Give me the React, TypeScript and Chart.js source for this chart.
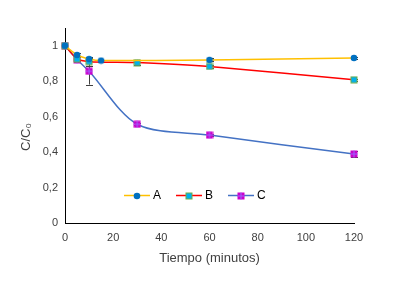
import React, { useEffect, useRef } from "react";
import { Chart, registerables } from "chart.js";

Chart.register(...registerables);

// ---- data ----
const seriesNames = ["A", "B", "C"];
const timesA = [0, 5, 10, 15, 60, 120];
const valuesA = [1, 0.948, 0.925, 0.916, 0.92, 0.931];
const errorsA = [0, 0.01, 0.01, 0.006, 0.008, 0.006];
const timesB = [0, 5, 10, 30, 60, 120];
const valuesB = [1, 0.925, 0.91, 0.905, 0.883, 0.808];
const errorsB = [0, 0.012, 0.022, 0.015, 0.01, 0.006];
const timesC = [0, 5, 10, 30, 60, 120];
const valuesC = [1, 0.922, 0.856, 0.557, 0.496, 0.389];
const errorsC = [0, 0.015, 0.075, 0.005, 0.006, 0.015];
const xTicks = [0, 20, 40, 60, 80, 100, 120];
const yTicks = [0, 0.2, 0.4, 0.6, 0.8, 1];
const xTitle = "Tiempo (minutos)";
const yTitle = "C/C₀";

const errorSets = [errorsA, errorsB, errorsC];

function makeCanvas(w: number, h: number, draw: (ctx: CanvasRenderingContext2D) => void) {
  const c = document.createElement("canvas");
  c.width = w;
  c.height = h;
  const ctx = c.getContext("2d")!;
  draw(ctx);
  return c;
}

function markerA() {
  return makeCanvas(8, 8, (ctx) => {
    ctx.fillStyle = "#0070C0";
    ctx.beginPath();
    ctx.arc(4, 4, 3.3, 0, Math.PI * 2);
    ctx.fill();
  });
}
function markerB() {
  return makeCanvas(8, 8, (ctx) => {
    ctx.fillStyle = "#70AD47";
    ctx.fillRect(0.5, 0.5, 7, 7);
    ctx.fillStyle = "#00B0F0";
    ctx.fillRect(1.5, 1.5, 5, 5);
  });
}
function markerC() {
  return makeCanvas(8, 8, (ctx) => {
    ctx.fillStyle = "#CC00CC";
    ctx.fillRect(0.5, 0.5, 7, 7);
    ctx.strokeStyle = "#9966FF";
    ctx.lineWidth = 1;
    ctx.beginPath();
    ctx.moveTo(4, 0.5);
    ctx.lineTo(4, 7.5);
    ctx.moveTo(0.5, 4);
    ctx.lineTo(7.5, 4);
    ctx.stroke();
  });
}

export default function App() {
  const ref = useRef<HTMLCanvasElement | null>(null);

  useEffect(() => {
    if (!ref.current) return;
    const FONT = "'Liberation Sans', Arial, sans-serif";
    Chart.defaults.font.family = FONT;
    const mA = markerA();
    const mB = markerB();
    const mC = markerC();
    const markers = [mA, mB, mC];
    const lineColors = ["#FFC000", "#FF0000", "#4472C4"];

    const toPts = (t: number[], v: number[]) => t.map((x, i) => ({ x, y: v[i] }));

    const errorPlugin = {
      id: "errorBars",
      beforeDatasetsDraw(chart: any) {
        const ctx = chart.ctx;
        const ys = chart.scales.y;
        ctx.save();
        ctx.strokeStyle = "#404040";
        ctx.lineWidth = 1;
        chart.data.datasets.forEach((ds: any, i: number) => {
          const meta = chart.getDatasetMeta(i);
          const errs = errorSets[i];
          meta.data.forEach((pt: any, j: number) => {
            const e = errs[j];
            if (!e) return;
            const v = ds.data[j].y;
            const x = Math.round(pt.x) + 0.5;
            const yt = ys.getPixelForValue(v + e);
            const yb = ys.getPixelForValue(v - e);
            ctx.beginPath();
            ctx.moveTo(x, yt);
            ctx.lineTo(x, yb);
            ctx.moveTo(x - 3.5, Math.round(yt) + 0.5);
            ctx.lineTo(x + 3.5, Math.round(yt) + 0.5);
            ctx.moveTo(x - 3.5, Math.round(yb) + 0.5);
            ctx.lineTo(x + 3.5, Math.round(yb) + 0.5);
            ctx.stroke();
          });
        });
        ctx.restore();
      },
    };

    const legendPlugin = {
      id: "customLegend",
      afterDraw(chart: any) {
        const ctx = chart.ctx;
        const ca = chart.chartArea;
        const y = ca.top + 167;
        let x0 = ca.left + 59;
        ctx.save();
        ctx.font = "12px " + FONT;
        ctx.textBaseline = "middle";
        ctx.fillStyle = "#000000";
        seriesNames.forEach((name, i) => {
          ctx.strokeStyle = lineColors[i];
          ctx.lineWidth = 1.5;
          ctx.beginPath();
          ctx.moveTo(x0, y + 0.5);
          ctx.lineTo(x0 + 26, y + 0.5);
          ctx.stroke();
          const m = markers[i];
          ctx.drawImage(m, Math.round(x0 + 13 - m.width / 2), Math.round(y - m.height / 2 + 0.5));
          ctx.fillText(name, x0 + 29, y + 1);
          x0 += 52;
        });
        // y-axis title
        ctx.save();
        ctx.translate(26, ca.top + 109);
        ctx.rotate(-Math.PI / 2);
        ctx.font = "13px " + FONT;
        ctx.fillStyle = "#404040";
        ctx.textAlign = "center";
        ctx.textBaseline = "middle";
        ctx.fillText(yTitle, 0, 0);
        ctx.restore();
        ctx.restore();
      },
    };

    const chart = new Chart(ref.current, {
      type: "scatter",
      data: {
        datasets: [
          {
            label: seriesNames[0],
            data: toPts(timesA, valuesA),
            showLine: true,
            borderColor: lineColors[0],
            borderWidth: 1.5,
            tension: 0.2,
            pointStyle: mA as any,
            pointRadius: 4,
            clip: false as any,
          },
          {
            label: seriesNames[1],
            data: toPts(timesB, valuesB),
            showLine: true,
            borderColor: lineColors[1],
            borderWidth: 1.5,
            tension: 0.2,
            pointStyle: mB as any,
            pointRadius: 4,
            clip: false as any,
          },
          {
            label: seriesNames[2],
            data: toPts(timesC, valuesC),
            showLine: true,
            borderColor: lineColors[2],
            borderWidth: 1.5,
            tension: 0.3,
            pointStyle: mC as any,
            pointRadius: 4,
            clip: false as any,
          },
        ],
      },
      options: {
        animation: false,
        responsive: false,
        devicePixelRatio: 1,
        layout: { padding: { top: 28, right: 52, left: 0, bottom: 0 } },
        plugins: { legend: { display: false }, tooltip: { enabled: false } },
        scales: {
          x: {
            type: "linear",
            min: 0,
            max: 120,
            afterBuildTicks: (s: any) => {
              s.ticks = xTicks.map((v) => ({ value: v }));
            },
            afterFit: (s: any) => {
              s.height = 61;
            },
            grid: { display: false, drawTicks: false },
            border: { color: "#000000", width: 1 },
            ticks: { color: "#404040", font: { size: 11 }, padding: 8, maxRotation: 0 },
            title: {
              display: true,
              text: xTitle,
              color: "#404040",
              font: { size: 13 },
              padding: { top: 0, bottom: 18 },
            },
          },
          y: {
            type: "linear",
            min: 0,
            max: 1.1,
            afterBuildTicks: (s: any) => {
              s.ticks = yTicks.map((v) => ({ value: v }));
            },
            afterFit: (s: any) => {
              s.width = 65;
            },
            grid: { display: false, drawTicks: false },
            border: { color: "#000000", width: 1 },
            ticks: {
              color: "#404040",
              font: { size: 11 },
              padding: 7,
              callback: (v: any) => String(Math.round(Number(v) * 10) / 10).replace(".", ","),
            },
            title: { display: false },
          },
        },
      },
      plugins: [errorPlugin, legendPlugin],
    });

    return () => chart.destroy();
  }, []);

  return (
    <div style={{ position: "fixed", left: 0, top: 0, width: 406, height: 284, background: "#ffffff" }}>
      <canvas ref={ref} width={406} height={284} style={{ width: 406, height: 284 }} />
    </div>
  );
}
